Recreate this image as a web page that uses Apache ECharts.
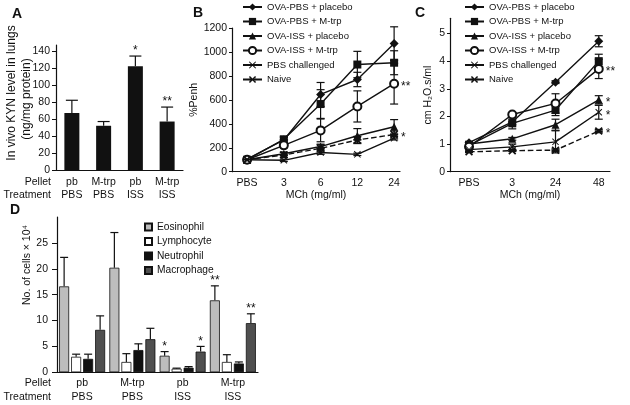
<!DOCTYPE html>
<html>
<head>
<meta charset="utf-8">
<script src="https://cdn.jsdelivr.net/npm/echarts@6/dist/echarts.min.js"></script>
<style>
html,body{margin:0;padding:0;background:#fff;}
#chart{width:630px;height:405px;}
</style>
</head>
<body>
<div id="chart"></div>
<script>
// ---------- Data ----------
// Panel A
var pelletA = ['pb', 'M-trp', 'pb', 'M-trp'];
var treatA = ['PBS', 'PBS', 'ISS', 'ISS'];
var kyn = [67, 52, 122, 57];
var kynErr = [15, 5, 12, 17];
var kynSig = ['', '', '*', '**'];
var yTicksA = [0, 20, 40, 60, 80, 100, 120, 140];

// Panel B (%Penh)
var mchB = ['PBS', '3', '6', '12', '24'];
var lineNames = ['OVA-PBS + placebo', 'OVA-PBS + M-trp', 'OVA-ISS + placebo', 'OVA-ISS + M-trp', 'PBS challenged', 'Naive'];
var penhPbsPlacebo = [105, 265, 645, 770, 1070];
var penhPbsMtrp = [100, 270, 565, 895, 910];
var penhIssPlacebo = [100, 150, 210, 300, 375];
var penhIssMtrp = [100, 220, 345, 545, 735];
var penhPbsChall = [100, 95, 160, 145, 280];
var penhNaive = [100, 140, 195, 265, 310];
var penhErrPbsPlacebo = [10, 20, 100, 60, 140];
var penhErrPbsMtrp = [10, 25, 120, 110, 100];
var penhErrIssPlacebo = [10, 15, 20, 60, 60];
var penhErrIssMtrp = [10, 20, 95, 130, 170];
var penhErrPbsChall = [5, 10, 15, 10, 15];
var penhErrNaive = [10, 20, 30, 30, 30];
var penhSig = ['', '', '', '**', '', '*'];

// Panel C (cm H2O.s/ml)
var mchC = ['PBS', '3', '24', '48'];
var cmPbsPlacebo = [1.05, 1.8, 3.24, 4.72];
var cmPbsMtrp = [0.95, 1.75, 2.23, 4.0];
var cmIssPlacebo = [1.0, 1.19, 1.7, 2.6];
var cmIssMtrp = [0.9, 2.07, 2.47, 3.72];
var cmPbsChall = [0.8, 0.9, 1.08, 2.15];
var cmNaive = [0.72, 0.76, 0.78, 1.47];
var cmErrPbsPlacebo = [0.05, 0.1, 0.05, 0.2];
var cmErrPbsMtrp = [0.05, 0.2, 0.2, 0.25];
var cmErrIssPlacebo = [0.05, 0.05, 0.2, 0.15];
var cmErrIssMtrp = [0.05, 0.05, 0.35, 0.35];
var cmErrPbsChall = [0.05, 0.1, 0.4, 0.25];
var cmErrNaive = [0.03, 0.03, 0.05, 0.06];
var cmSig = ['', '', '*', '**', '*', '*'];
var yTicksC = [0, 1, 2, 3, 4, 5];

// Panel D (cells)
var pelletD = ['pb', 'M-trp', 'pb', 'M-trp'];
var treatD = ['PBS', 'PBS', 'ISS', 'ISS'];
var cellNames = ['Eosinophil', 'Lymphocyte', 'Neutrophil', 'Macrophage'];
var cellEos = [16.6, 20.2, 3.2, 13.9];
var cellLymph = [3.0, 2.0, 0.7, 2.0];
var cellNeut = [2.6, 4.3, 0.9, 1.7];
var cellMac = [8.2, 6.4, 4.0, 9.5];
var errEos = [5.6, 6.8, 0.8, 2.8];
var errLymph = [0.5, 1.6, 0.1, 1.4];
var errNeut = [0.9, 1.2, 0.2, 0.3];
var errMac = [2.7, 2.1, 1.0, 1.8];
var sigEos = ['', '', '*', '**'];
var sigLymph = ['', '', '', ''];
var sigNeut = ['', '', '', ''];
var sigMac = ['', '', '*', '**'];
var yTicksD = [0, 5, 10, 15, 20, 25];

// ---------- Styling ----------
var FONT = "'Liberation Sans', Arial, Helvetica, sans-serif";
var INK = '#111';
var X_PATH = 'path://M0,1L1,0L5,4L9,0L10,1L6,5L10,9L9,10L5,6L1,10L0,9L4,5Z';
var STAR_PATH = 'path://M0,1.5L1.5,0L5,3.5L8.5,0L10,1.5L6.5,5L10,8.5L8.5,10L5,6.5L1.5,10L0,8.5L3.5,5ZM0,3.9L10,3.9L10,6.1L0,6.1Z';
var lineSymbols = ['diamond', 'rect', 'triangle', 'emptyCircle', X_PATH, STAR_PATH];
var lineSymbolSizes = [9, 8, 8, 8, 7, 8];
var lineDash = ['solid', 'solid', 'solid', 'solid', 'solid', 'dashed'];
var cellColors = ['#bdbdbd', '#ffffff', '#111111', '#4f4f4f'];

var catA = pelletA.map(function (p, i) { return p + '\n' + treatA[i]; });
var catD = pelletD.map(function (p, i) { return p + '\n' + treatD[i]; });

var penhSeries = [penhPbsPlacebo, penhPbsMtrp, penhIssPlacebo, penhIssMtrp, penhPbsChall, penhNaive];
var penhErrs = [penhErrPbsPlacebo, penhErrPbsMtrp, penhErrIssPlacebo, penhErrIssMtrp, penhErrPbsChall, penhErrNaive];
var cmSeries = [cmPbsPlacebo, cmPbsMtrp, cmIssPlacebo, cmIssMtrp, cmPbsChall, cmNaive];
var cmErrs = [cmErrPbsPlacebo, cmErrPbsMtrp, cmErrIssPlacebo, cmErrIssMtrp, cmErrPbsChall, cmErrNaive];
var cellSeries = [cellEos, cellLymph, cellNeut, cellMac];
var cellErrs = [errEos, errLymph, errNeut, errMac];
var cellSigs = [sigEos, sigLymph, sigNeut, sigMac];

var BAR_W_D = 10, BAR_GAP_D = 2;

// ---------- helpers ----------
function lineSer(name, values, i, axisIdx) {
  return {
    type: 'line', name: name, xAxisIndex: axisIdx, yAxisIndex: axisIdx,
    data: values.map(function (v, k) { return [k, v]; }),
    symbol: lineSymbols[i], symbolSize: lineSymbolSizes[i],
    showAllSymbol: true,
    lineStyle: { color: INK, width: 1.4, type: lineDash[i] },
    itemStyle: i === 3 ? { color: INK, borderColor: INK, borderWidth: 1.4 } : { color: INK },
    z: 3, silent: true
  };
}

function twoSidedErr(rows, axisIdx) {
  return {
    type: 'custom', xAxisIndex: axisIdx, yAxisIndex: axisIdx, silent: true, z: 2,
    data: rows.map(function (r) { return [r.x, r.y, r.e]; }),
    renderItem: function (params, api) {
      var r = rows[params.dataIndex];
      var top = api.coord([r.x, r.y + r.e]);
      var bot = api.coord([r.x, r.y - r.e]);
      var mid = api.coord([r.x, r.y]);
      var hw = 4;
      var st = { stroke: INK, lineWidth: 1.2 };
      var ch = [
        { type: 'line', shape: { x1: top[0], y1: top[1], x2: bot[0], y2: bot[1] }, style: st },
        { type: 'line', shape: { x1: top[0] - hw, y1: top[1], x2: top[0] + hw, y2: top[1] }, style: st },
        { type: 'line', shape: { x1: bot[0] - hw, y1: bot[1], x2: bot[0] + hw, y2: bot[1] }, style: st }
      ];
      if (r.sig) {
        ch.push({ type: 'text', style: { text: r.sig, x: mid[0] + 7, y: mid[1] + 3, align: 'left', verticalAlign: 'middle', fontSize: 12, fontFamily: FONT, fill: INK } });
      }
      return { type: 'group', children: ch };
    }
  };
}

function upErr(rows, axisIdx, capHW, offsetFn) {
  return {
    type: 'custom', xAxisIndex: axisIdx, yAxisIndex: axisIdx, silent: true, z: 4,
    data: rows.map(function (r) { return [r.x, r.y, r.e]; }),
    renderItem: function (params, api) {
      var r = rows[params.dataIndex];
      var off = offsetFn ? offsetFn(r) : 0;
      var base = api.coord([r.x, r.y]);
      var top = api.coord([r.x, r.y + r.e]);
      var x = base[0] + off;
      var st = { stroke: INK, lineWidth: 1.2 };
      var ch = [
        { type: 'line', shape: { x1: x, y1: base[1], x2: x, y2: top[1] }, style: st },
        { type: 'line', shape: { x1: x - capHW, y1: top[1], x2: x + capHW, y2: top[1] }, style: st }
      ];
      if (r.sig) {
        ch.push({ type: 'text', style: { text: r.sig, x: x, y: top[1] + 1, align: 'center', verticalAlign: 'bottom', fontSize: 12, fontFamily: FONT, fill: INK } });
      }
      return { type: 'group', children: ch };
    }
  };
}

// ---------- build series ----------
var series = [];

// A bars
series.push({
  type: 'bar', xAxisIndex: 0, yAxisIndex: 0, data: kyn, barWidth: 15,
  itemStyle: { color: INK }, silent: true, z: 2
});
series.push(upErr(kyn.map(function (v, i) { return { x: i, y: v, e: kynErr[i], sig: kynSig[i] }; }), 0, 6));

// B lines
var rowsB = [];
lineNames.forEach(function (n, i) {
  series.push(lineSer(n, penhSeries[i], i, 1));
  penhSeries[i].forEach(function (v, k) {
    rowsB.push({ x: k, y: v, e: penhErrs[i][k], sig: k === penhSeries[i].length - 1 ? penhSig[i] : '' });
  });
});
series.push(twoSidedErr(rowsB, 1));

// C lines
var rowsC = [];
lineNames.forEach(function (n, i) {
  series.push(lineSer(n, cmSeries[i], i, 2));
  cmSeries[i].forEach(function (v, k) {
    rowsC.push({ x: k, y: v, e: cmErrs[i][k], sig: k === cmSeries[i].length - 1 ? cmSig[i] : '' });
  });
});
series.push(twoSidedErr(rowsC, 2));

// D bars
var rowsD = [];
cellNames.forEach(function (n, j) {
  series.push({
    type: 'bar', name: n, xAxisIndex: 3, yAxisIndex: 3, data: cellSeries[j],
    barWidth: BAR_W_D, barGap: (BAR_GAP_D / BAR_W_D * 100) + '%',
    itemStyle: { color: cellColors[j], borderColor: INK, borderWidth: 0.8 },
    silent: true, z: 2
  });
  cellSeries[j].forEach(function (v, i) {
    rowsD.push({ x: i, y: v, e: cellErrs[j][i], sig: cellSigs[j][i], k: j });
  });
});
series.push(upErr(rowsD, 3, 4, function (r) { return (r.k - 1.5) * (BAR_W_D + BAR_GAP_D); }));

// ---------- axes ----------
var axLine = { show: true, onZero: false, lineStyle: { color: INK, width: 1.2 } };
var lbl = { color: INK, fontSize: 10.5, fontFamily: FONT };
var plain = function (v) { return String(v); };

var xAxis = [
  { gridIndex: 0, type: 'category', data: catA, axisLine: axLine, axisTick: { show: false },
    axisLabel: Object.assign({}, lbl, { margin: 6, lineHeight: 13, interval: 0 }) },
  { gridIndex: 1, type: 'value', min: -0.41, max: 4.16, splitLine: { show: false }, axisLine: axLine,
    axisTick: { show: false },
    axisLabel: Object.assign({}, lbl, { margin: 6, customValues: [0, 1, 2, 3, 4], formatter: function (v) { return mchB[Math.round(v)]; } }),
    name: 'MCh (mg/ml)', nameLocation: 'middle', nameGap: 17, nameTextStyle: lbl },
  { gridIndex: 2, type: 'value', min: -0.44, max: 3.26, splitLine: { show: false }, axisLine: axLine,
    axisTick: { show: false },
    axisLabel: Object.assign({}, lbl, { margin: 6, customValues: [0, 1, 2, 3], formatter: function (v) { return mchC[Math.round(v)]; } }),
    name: 'MCh (mg/ml)', nameLocation: 'middle', nameGap: 17, nameTextStyle: lbl },
  { gridIndex: 3, type: 'category', data: catD, axisLine: axLine, axisTick: { show: false },
    axisLabel: Object.assign({}, lbl, { margin: 4, lineHeight: 14, interval: 0 }) }
];

var yAxis = [
  { gridIndex: 0, type: 'value', min: 0, max: 147, splitLine: { show: false }, axisLine: axLine,
    axisTick: { show: true, length: 4, lineStyle: { color: INK }, customValues: yTicksA },
    axisLabel: Object.assign({}, lbl, { margin: 6, customValues: yTicksA, formatter: plain }) },
  { gridIndex: 1, type: 'value', min: 0, max: 1200, interval: 200, splitLine: { show: false }, axisLine: axLine,
    axisTick: { show: true, length: 3, lineStyle: { color: INK } },
    axisLabel: Object.assign({}, lbl, { margin: 5, formatter: plain }),
    name: '%Penh', nameLocation: 'middle', nameGap: 28, nameTextStyle: lbl },
  { gridIndex: 2, type: 'value', min: 0, max: 5.55, splitLine: { show: false }, axisLine: axLine,
    axisTick: { show: true, length: 3, lineStyle: { color: INK }, customValues: yTicksC },
    axisLabel: Object.assign({}, lbl, { margin: 5, customValues: yTicksC, formatter: plain }),
    name: 'cm H\u2082O.s/ml', nameLocation: 'middle', nameGap: 16, nameTextStyle: lbl },
  { gridIndex: 3, type: 'value', min: 0, max: 30, splitLine: { show: false }, axisLine: axLine,
    axisTick: { show: true, length: 5, lineStyle: { color: INK }, customValues: yTicksD },
    axisLabel: Object.assign({}, lbl, { margin: 9, customValues: yTicksD, formatter: plain }) }
];

function txt(t, x, y, opts) {
  return { type: 'text', x: x, y: y, silent: true,
    style: Object.assign({ text: t, fill: INK, fontFamily: FONT, fontSize: 10.5, align: 'center', verticalAlign: 'middle' }, opts || {}) };
}
function rtxt(t, x, y, opts) {
  var o = txt(t, x, y, opts);
  o.rotation = Math.PI / 2;
  return o;
}

var graphic = [
  txt('A', 17, 14, { fontSize: 14, fontWeight: 'bold' }),
  txt('B', 198, 13, { fontSize: 14, fontWeight: 'bold' }),
  txt('C', 420, 13, { fontSize: 14, fontWeight: 'bold' }),
  txt('D', 15, 210, { fontSize: 14, fontWeight: 'bold' }),
  txt('Pellet', 51, 182.5, { align: 'right' }),
  txt('Treatment', 51, 195.5, { align: 'right' }),
  txt('Pellet', 51, 383.3, { align: 'right' }),
  txt('Treatment', 51, 397.3, { align: 'right' }),
  rtxt('In vivo KYN level in lungs', 12, 93, { fontSize: 12 }),
  rtxt('(ng/mg protein)', 26.5, 99, { fontSize: 12 }),
  rtxt('No. of cells \u00d7 10\u2074', 27, 265, { fontSize: 10.5 })
];

var legendLine = {
  data: lineNames, orient: 'vertical', top: 1, padding: 0, itemWidth: 19, itemHeight: 9, itemGap: 2.5,
  selectedMode: false, textStyle: { fontSize: 9.5, lineHeight: 12, color: INK, fontFamily: FONT }
};

var option = {
  animation: false,
  textStyle: { fontFamily: FONT, color: INK },
  grid: [
    { left: 56, top: 45, width: 127, height: 125 },
    { left: 232, top: 28, width: 168, height: 143.7 },
    { left: 450, top: 18.3, width: 160, height: 153.4 },
    { left: 57, top: 217, width: 201, height: 155.3 }
  ],
  legend: [
    Object.assign({}, legendLine, { left: 242 }),
    Object.assign({}, legendLine, { left: 464 }),
    { data: cellNames, orient: 'vertical', left: 144, top: 221, padding: 0, itemWidth: 7, itemHeight: 7, itemGap: 2.5,
      icon: 'rect', selectedMode: false, textStyle: { fontSize: 10.2, lineHeight: 12, color: INK, fontFamily: FONT } }
  ],
  xAxis: xAxis,
  yAxis: yAxis,
  graphic: graphic,
  series: series
};

var chart = echarts.init(document.getElementById('chart'), null, { renderer: 'canvas' });
chart.setOption(option);
</script>
</body>
</html>
